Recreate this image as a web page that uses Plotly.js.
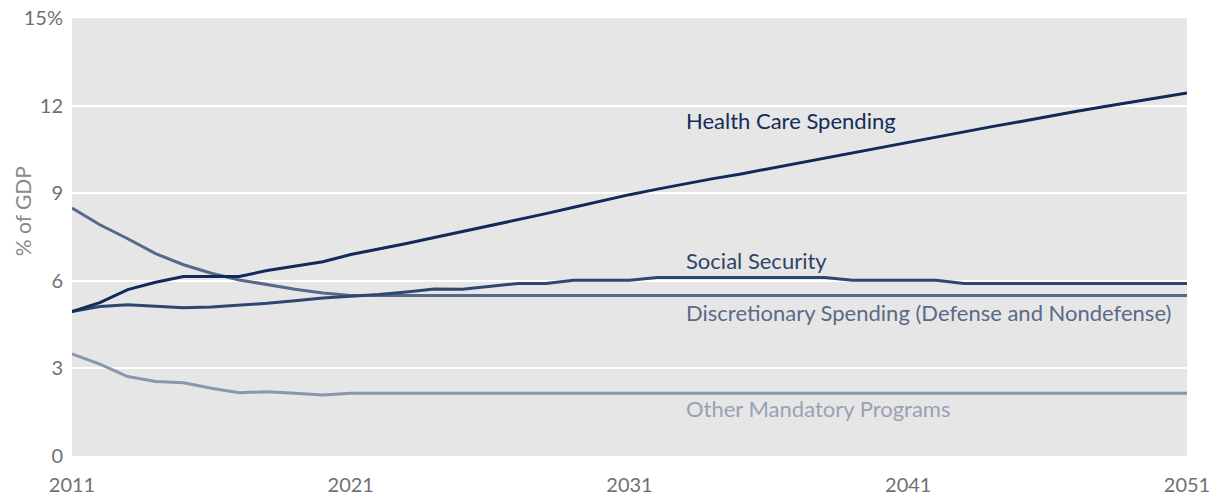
<!DOCTYPE html>
<html>
<head>
<meta charset="utf-8">
<script src="https://cdn.plot.ly/plotly-3.0.1.min.js"></script>
<style>
  html, body { margin: 0; padding: 0; background: #ffffff; }
  #chart { width: 1212px; height: 499px; }
</style>
</head>
<body>
<div id="chart"></div>
<script>
const years = [];
for (let y = 2011; y <= 2051; y++) years.push(y);

const healthCare = [4.95, 5.25, 5.7, 5.95, 6.15, 6.15, 6.15, 6.35, 6.5, 6.65, 6.9,
  7.08, 7.28, 7.48, 7.68, 7.9, 8.1, 8.3, 8.52, 8.74, 8.95,
  9.14, 9.33, 9.5, 9.66, 9.84, 10.02, 10.2, 10.4, 10.58, 10.76,
  10.94, 11.11, 11.28, 11.45, 11.63, 11.8, 11.96, 12.12, 12.28, 12.43];

const socialSecurity = [4.95, 5.12, 5.18, 5.12, 5.08, 5.1, 5.16, 5.23, 5.32, 5.41, 5.47,
  5.53, 5.62, 5.72, 5.71, 5.82, 5.91, 5.91, 6.02, 6.02, 6.02,
  6.11, 6.11, 6.11, 6.11, 6.11, 6.11, 6.11, 6.02, 6.02, 6.02,
  6.02, 5.91, 5.91, 5.91, 5.91, 5.91, 5.91, 5.91, 5.91, 5.91];

const discretionary = [8.49, 7.92, 7.44, 6.93, 6.55, 6.26, 6.03, 5.86, 5.71, 5.58, 5.5,
  5.5, 5.5, 5.5, 5.5, 5.5, 5.5, 5.5, 5.5, 5.5, 5.5,
  5.5, 5.5, 5.5, 5.5, 5.5, 5.5, 5.5, 5.5, 5.5, 5.5,
  5.5, 5.5, 5.5, 5.5, 5.5, 5.5, 5.5, 5.5, 5.5, 5.5];

const otherMandatory = [3.5, 3.15, 2.72, 2.55, 2.51, 2.32, 2.17, 2.2, 2.15, 2.09, 2.15,
  2.15, 2.15, 2.15, 2.15, 2.15, 2.15, 2.15, 2.15, 2.15, 2.15,
  2.15, 2.15, 2.15, 2.15, 2.15, 2.15, 2.15, 2.15, 2.15, 2.15,
  2.15, 2.15, 2.15, 2.15, 2.15, 2.15, 2.15, 2.15, 2.15, 2.15];

const seriesNames = ["Health Care Spending", "Social Security",
  "Discretionary Spending (Defense and Nondefense)", "Other Mandatory Programs"];
const xTickVals = [2011, 2021, 2031, 2041, 2051];
const xTickText = ["2011", "2021", "2031", "2041", "2051"];
const yTickVals = [0, 3, 6, 9, 12, 15];
const yTickText = ["0", "3", "6", "9", "12", "15%"];
const yTitle = "% of GDP";

const colors = ["#112a5c", "#2d4672", "#56698a", "#8897ad"];
const labelColors = ["#152c58", "#2f4468", "#5a6a86", "#98a2b3"];

const seriesData = [healthCare, socialSecurity, discretionary, otherMandatory];
const drawOrder = [3, 2, 1, 0];
const traces = drawOrder.map(i => ({
  x: years, y: seriesData[i], type: "scatter", mode: "lines",
  name: seriesNames[i], line: { color: colors[i], width: 3 },
  hoverinfo: "skip"
}));

const FONT = "Lato, 'Open Sans', sans-serif";
const labelPos = [
  [2032.95, 11.48], [2032.95, 6.68], [2032.95, 4.9], [2032.95, 1.61]
];
const annotations = seriesNames.map((n, i) => ({
  text: n, x: labelPos[i][0], y: labelPos[i][1], xref: "x", yref: "y",
  xanchor: "left", yanchor: "middle", showarrow: false,
  font: { family: FONT, size: 22, color: labelColors[i] }
}));
annotations.push({
  text: yTitle, xref: "paper", yref: "paper",
  x: -0.0448, y: 0.559, xanchor: "center", yanchor: "middle",
  textangle: -90, showarrow: false,
  font: { family: FONT, size: 21, color: "#8a8a8a" }
});

const layout = {
  width: 1212, height: 499,
  margin: { l: 72, r: 25, t: 18, b: 43 },
  paper_bgcolor: "#ffffff", plot_bgcolor: "#e6e6e6",
  showlegend: false,
  xaxis: {
    range: [2011, 2051], tickvals: xTickVals, ticktext: xTickText,
    showgrid: false, zeroline: false, showline: false, ticks: "",
    ticklabelstandoff: 15,
    tickfont: { family: FONT, size: 20, color: "#707070" }, fixedrange: true
  },
  yaxis: {
    range: [0, 15], tickvals: yTickVals, ticktext: yTickText,
    showgrid: true, gridcolor: "#ffffff", gridwidth: 2,
    zeroline: false, showline: false, ticks: "",
    ticklabelstandoff: 8,
    tickfont: { family: FONT, size: 20, color: "#707070" }, fixedrange: true
  },
  annotations: annotations
};

Plotly.newPlot("chart", traces, layout, { displayModeBar: false, staticPlot: true });
</script>
</body>
</html>
